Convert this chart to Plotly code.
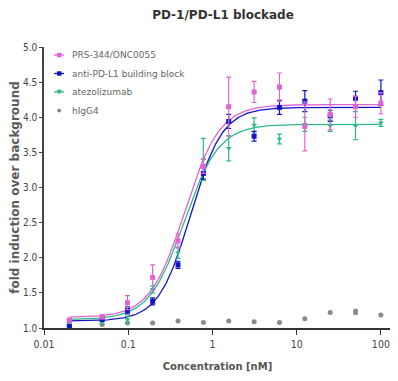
import numpy as np
import plotly.graph_objects as go

conc = [0.02, 0.049, 0.098, 0.195, 0.39, 0.78, 1.56, 3.125, 6.25, 12.5, 25, 50, 100]

prs_mean = [1.11, 1.16, 1.36, 1.72, 2.24, 3.30, 4.15, 4.36, 4.43, 3.87, 4.04, 4.15, 4.20]
prs_err = [0.03, 0.03, 0.10, 0.18, 0.10, 0.10, 0.42, 0.15, 0.20, 0.35, 0.22, 0.15, 0.15]

blue_mean = [1.02, 1.12, 1.25, 1.38, 1.90, 3.20, 3.94, 3.73, 4.14, 4.23, 4.02, 4.27, 4.35]
blue_err = [0.02, 0.02, 0.05, 0.05, 0.05, 0.08, 0.10, 0.07, 0.10, 0.15, 0.08, 0.10, 0.18]

green_mean = [1.06, 1.09, 1.12, 1.55, 2.07, 3.40, 3.56, 3.89, 3.69, 3.90, 3.88, 3.88, 3.92]
green_err = [0.02, 0.03, 0.05, 0.05, 0.08, 0.30, 0.18, 0.10, 0.07, 0.10, 0.08, 0.20, 0.05]

higg4_mean = [1.03, 1.05, 1.07, 1.07, 1.10, 1.08, 1.10, 1.09, 1.08, 1.13, 1.22, 1.23, 1.185]
higg4_err = [0, 0, 0, 0, 0, 0, 0, 0, 0, 0, 0, 0.03, 0]

# 4-parameter logistic fit parameters: bottom, top, EC50 (nM), Hill slope
prs_fit = [1.15, 4.18, 0.47, 2.1]
blue_fit = [1.10, 4.14, 0.55, 2.3]
green_fit = [1.12, 3.90, 0.46, 2.1]

names = ["PRS-344/ONC0055", "anti-PD-L1 building block", "atezolizumab", "hIgG4"]
colors = ["#e064d4", "#1414c4", "#2cb98c", "#8a8a8a"]
symbols = ["square", "square", "triangle-down", "circle"]

# the page body has an 8px default margin, so the figure is placed at (8, 8);
# keep the figure inside the visible part of the window
OFF = 8
W, H = 383, 364
ML, MR, MT, MB = 36, 0, 39, 44
PW, PH = W - ML - MR, H - MT - MB


def px(x):  # page pixel -> paper x
    return (x - OFF - ML) / PW


def py(y):  # page pixel -> paper y
    return (H - MB - (y - OFF)) / PH


fig = go.Figure()

xs = np.logspace(np.log10(conc[0]), np.log10(conc[-1]), 300)


def fourpl(x, p):
    b, t, ec, h = p
    return b + (t - b) / (1 + (ec / x) ** h)


series = [
    (prs_mean, prs_err, prs_fit),
    (blue_mean, blue_err, blue_fit),
    (green_mean, green_err, green_fit),
]

for i, (m, e, p) in enumerate(series):
    fig.add_trace(go.Scatter(
        x=xs, y=fourpl(xs, p), mode="lines",
        line=dict(color=colors[i], width=1.3), showlegend=False, hoverinfo="skip"))

fig.add_trace(go.Scatter(
    x=conc, y=higg4_mean, mode="markers", name=names[3],
    marker=dict(color=colors[3], size=5, symbol="circle"),
    error_y=dict(type="data", array=higg4_err, color=colors[3], thickness=2, width=2),
    showlegend=False))

for i in [2, 1, 0]:
    m, e, p = series[i]
    fig.add_trace(go.Scatter(
        x=conc, y=m, mode="markers", name=names[i],
        marker=dict(color=colors[i], size=5, symbol=symbols[i]),
        error_y=dict(type="data", array=e, color=colors[i], thickness=1.2, width=2.5),
        showlegend=False))

font_fam = "DejaVu Sans, Liberation Sans, sans-serif"
narrow = "Liberation Sans Narrow, DejaVu Sans Condensed, Arial Narrow, sans-serif"

# manual compact legend
shapes = []
annotations = []
leg_y = [55, 73.5, 92, 110.5]
for i, nm in enumerate(names):
    yy = leg_y[i]
    if i < 3:
        shapes.append(dict(type="line", xref="paper", yref="paper",
                           x0=px(54), x1=px(64), y0=py(yy), y1=py(yy),
                           line=dict(color=colors[i], width=1.3)))
    if symbols[i] == "square":
        shapes.append(dict(type="rect", xref="paper", yref="paper",
                           x0=px(57), x1=px(61.5), y0=py(yy - 2.2), y1=py(yy + 2.2),
                           fillcolor=colors[i], line=dict(width=0)))
    elif symbols[i] == "triangle-down":
        shapes.append(dict(type="path", xref="paper", yref="paper",
                           path=f"M {px(56.5)} {py(yy - 2.2)} L {px(62)} {py(yy - 2.2)} L {px(59.2)} {py(yy + 2.6)} Z",
                           fillcolor=colors[i], line=dict(width=0)))
    else:
        shapes.append(dict(type="circle", xref="paper", yref="paper",
                           x0=px(57.2), x1=px(61.2), y0=py(yy - 2), y1=py(yy + 2),
                           fillcolor=colors[i], line=dict(width=0)))
    annotations.append(dict(text=nm, xref="paper", yref="paper", x=px(70), y=py(yy),
                            xanchor="left", yanchor="middle", showarrow=False,
                            font=dict(family=font_fam, size=9, color="#666666")))

fig.update_layout(
    width=W, height=H,
    margin=dict(l=ML, r=MR, t=MT, b=MB),
    paper_bgcolor="white", plot_bgcolor="white",
    title=dict(text="<b>PD-1/PD-L1 blockade</b>", x=(223 - OFF) / W, xanchor="center",
               y=1 - (15 - OFF) / H, yanchor="middle",
               font=dict(family=font_fam, size=12, color="#333333")),
    showlegend=False,
    shapes=shapes, annotations=annotations,
    font=dict(family=font_fam, color="#444444"),
)

fig.update_xaxes(
    type="log", range=[-2, 2.12], automargin=False, ticklabeloverflow="allow",
    tickvals=[0.01, 0.1, 1, 10, 100], ticktext=["0.01", "0.1", "1", "10", "100"],
    showgrid=False, zeroline=False, showline=True, linecolor="#333333", linewidth=2,
    ticks="outside", ticklen=5, tickcolor="#333333", tickwidth=1,
    tickfont=dict(family=narrow, size=10.5, color="#444444"),
    title=dict(text="<b>Concentration [nM]</b>", font=dict(family=font_fam, size=10, color="#555555"), standoff=16),
)
fig.update_yaxes(
    range=[1, 5], automargin=False, tickvals=[1, 1.5, 2, 2.5, 3, 3.5, 4, 4.5, 5],
    ticktext=["1.0", "1.5", "2.0", "2.5", "3.0", "3.5", "4.0", "4.5", "5.0"],
    showgrid=False, zeroline=False, showline=True, linecolor="#444444", linewidth=1.5,
    ticks="outside", ticklen=3, tickcolor="#444444", tickwidth=1,
    tickfont=dict(family=narrow, size=10, color="#444444"),
    title=dict(text="<b>fold induction over background</b>", font=dict(family=font_fam, size=12, color="#5a5a5a"), standoff=5),
)

fig.write_html("out.html")
